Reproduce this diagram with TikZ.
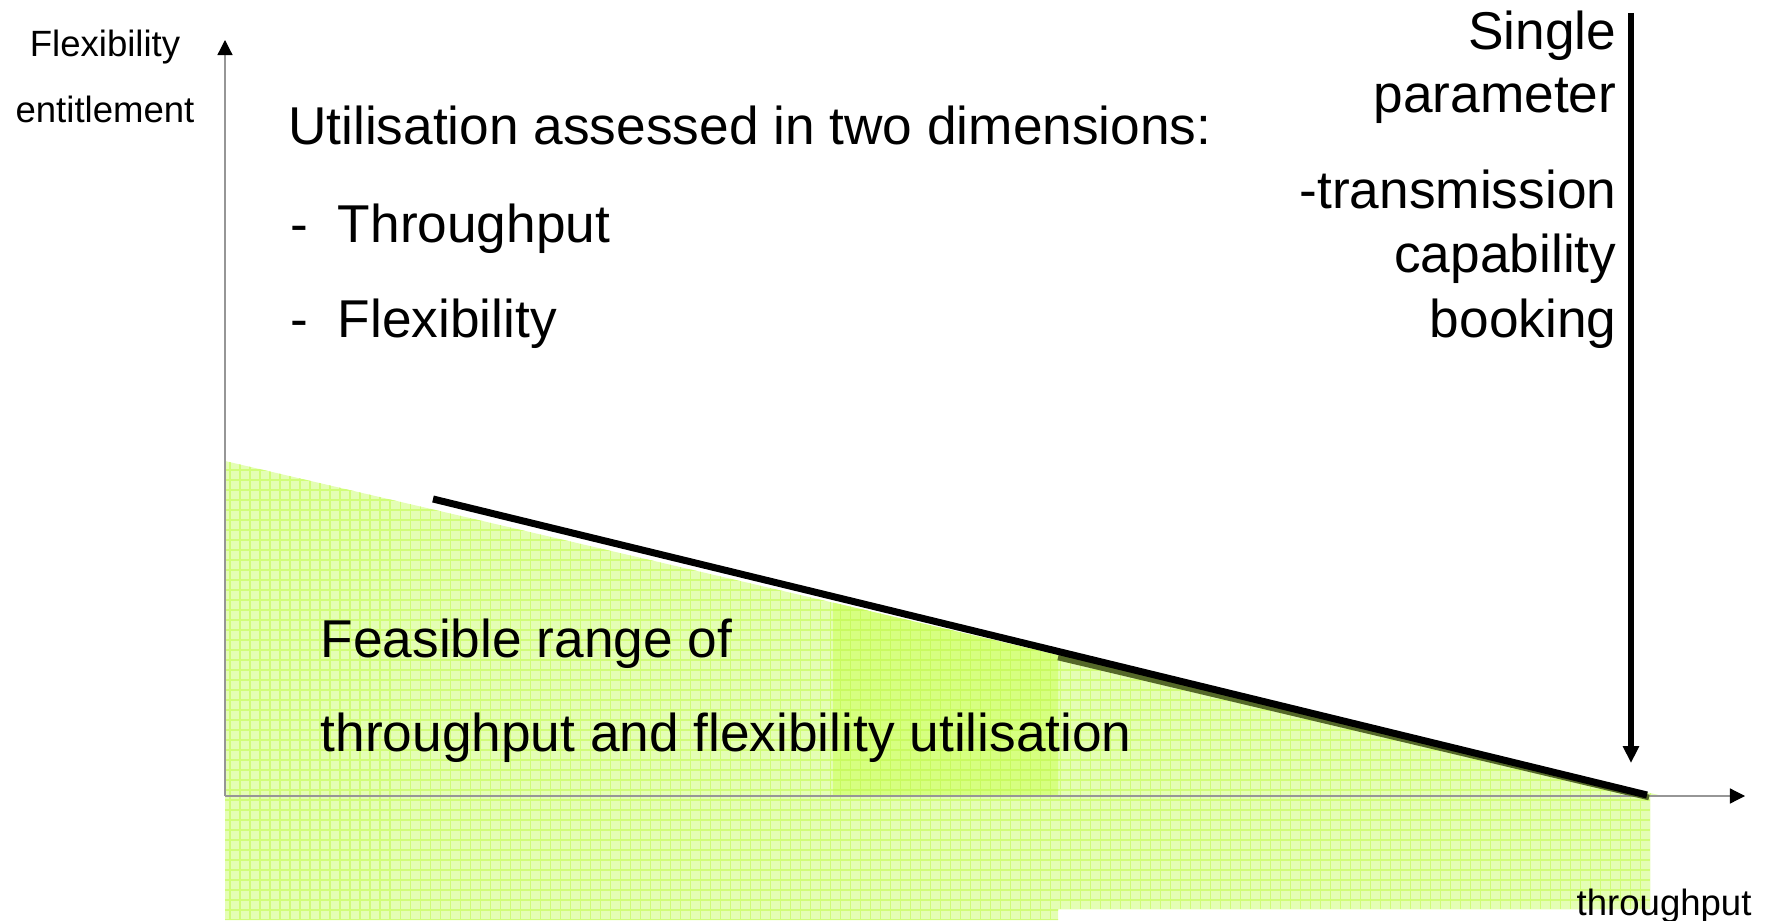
\documentclass[tikz,border=0pt]{standalone}
\usepackage{fontspec}
\setmainfont{Liberation Sans}
\usetikzlibrary{arrows.meta}
\definecolor{feasbg}{RGB}{228,254,180}
\definecolor{feasln}{RGB}{208,252,120}
\definecolor{corebg}{RGB}{214,255,128}
\definecolor{coreln}{RGB}{200,250,96}
\definecolor{axgray}{RGB}{150,150,150}
\definecolor{stripe}{RGB}{84,104,40}
\tikzset{axln/.style={axgray,line width=0.35pt,-{Triangle[length=4.3pt,width=4.3pt,black]}},
  axlab/.style={inner sep=0pt,font=\fontsize{10.4}{12}\selectfont},
  bigtxt/.style={inner sep=0pt,font=\fontsize{15.15}{18}\selectfont}}

\begin{document}
\begin{tikzpicture}
  \useasboundingbox (0,0) rectangle (17.66,9.20);
  % feasible range, gridded fill
  \begin{scope}
    \clip (2.25,4.59) -- (16.63,1.24) -- (16.50,1.24) -- (16.50,0.11)
      -- (10.58,0.11) -- (10.58,0) -- (2.25,0) -- cycle;
    \fill[feasbg] (2.2,0) rectangle (16.7,4.6);
    \draw[feasln,line width=0.3pt,step=0.1] (2.2,0) grid (16.7,4.6);
  \end{scope}
  \begin{scope}
    \clip (8.33,1.24) -- (8.33,3.174) -- (10.58,2.649) -- (10.58,1.24) -- cycle;
    \fill[corebg] (8.3,1.2) rectangle (10.6,3.2);
    \draw[coreln,line width=0.3pt,step=0.1] (8.3,1.2) grid (10.6,3.2);
  \end{scope}
  % axes
  \coordinate (origin) at (2.25,1.24);
  \coordinate (ytip) at (2.25,8.80);
  \coordinate (xtip) at (17.45,1.24);
  \draw[axln] (origin) -- (ytip);
  \draw[axln] (origin) -- (xtip);
  % limit line
  \coordinate (limA) at (4.33,4.21);
  \coordinate (limB) at (16.47,1.25);
  \coordinate (stA) at (10.58,2.625);
  \coordinate (stB) at (16.49,1.225);
  \draw[stripe,line width=1.6pt] (stA) -- (stB);
  \draw[line width=2pt] (limA) -- (limB);
  % single parameter arrow
  \coordinate (parTop) at (16.31,9.07);
  \coordinate (parTip) at (16.31,1.57);
  \draw[line width=1.8pt,-{Triangle[length=4.8pt,width=4.4pt]}] (parTop) -- (parTip);
  % labels
  \node[axlab,anchor=base] (flexlab) at (1.05,8.63) {Flexibility};
  \node[axlab,anchor=base] (entlab) at (1.05,7.97) {entitlement};
  \node[axlab,anchor=base west] (thrlab) at (15.76,0.05) {throughput};
  \node[bigtxt,anchor=base west] (assess) at (2.875,7.75) {Utilisation assessed in two dimensions:};
  \node[bigtxt,anchor=base west] (dimthr) at (2.895,6.78) {-\hspace{0.30cm}Throughput};
  \node[bigtxt,anchor=base west] (dimflex) at (2.895,5.83) {-\hspace{0.30cm}Flexibility};
  \node[bigtxt,anchor=base east] (single) at (16.17,8.70) {Single};
  \node[bigtxt,anchor=base east] (param) at (16.17,8.07) {parameter};
  \node[bigtxt,anchor=base east] (trans) at (16.17,7.12) {-transmission};
  \node[bigtxt,anchor=base east] (capab) at (16.17,6.48) {capability};
  \node[bigtxt,anchor=base east] (book) at (16.17,5.83) {booking};
  \node[bigtxt,anchor=base west] (feas) at (3.20,2.63) {Feasible range of};
  \node[bigtxt,anchor=base west] (feasb) at (3.20,1.69) {throughput and flexibility utilisation};
\end{tikzpicture}
\end{document}
